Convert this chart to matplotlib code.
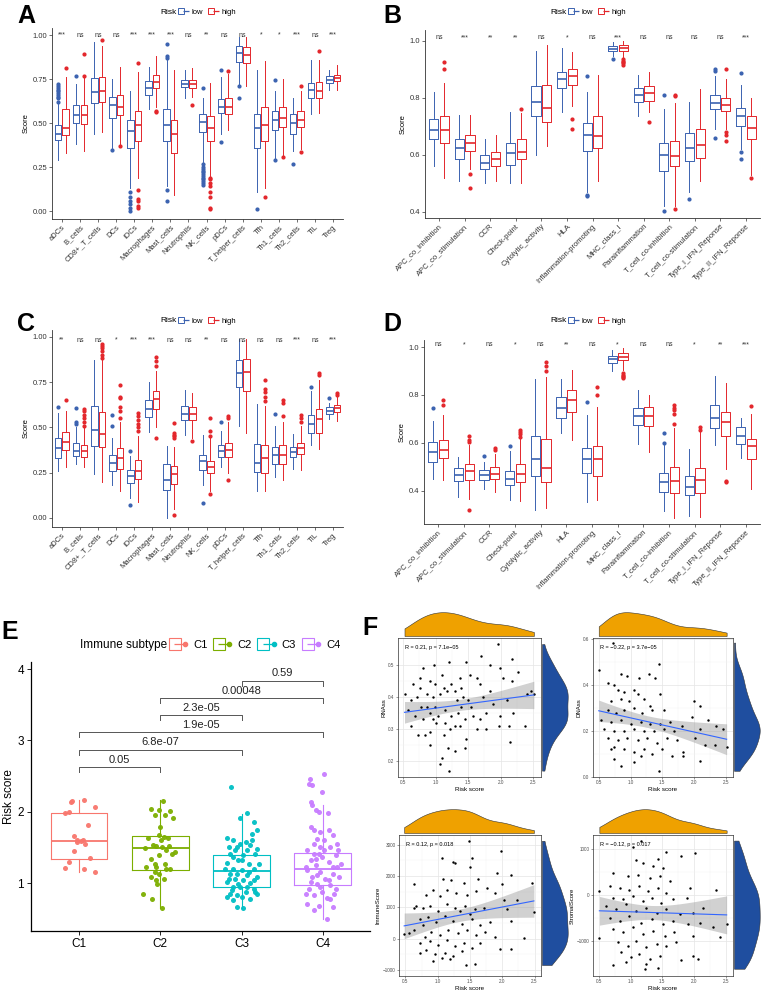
import matplotlib
matplotlib.use("Agg")
import matplotlib.pyplot as plt
import numpy as np
from matplotlib.lines import Line2D
from matplotlib.legend_handler import HandlerTuple

plt.rcParams["font.family"] = ["Liberation Sans", "DejaVu Sans"]

W, H = 762, 990

# ---------------- data: panels A-D (whislo, q1, med, q3, whishi) ----------------
A_labels = ["aDCs", "B_cells", "CD8+_T_cells", "DCs", "iDCs", "Macrophages", "Mast_cells",
            "Neutrophils", "NK_cells", "pDCs", "T_helper_cells", "Tfh", "Th1_cells",
            "Th2_cells", "TIL", "Treg"]
A_sig = ["***", "ns", "ns", "ns", "***", "***", "***", "ns", "**", "ns", "ns", "*", "*", "***", "ns", "***"]
A_low = [(0.29, 0.405, 0.44, 0.49, 0.61), (0.38, 0.50, 0.545, 0.60, 0.72), (0.44, 0.615, 0.675, 0.755, 0.96),
         (0.36, 0.53, 0.60, 0.65, 0.75), (0.13, 0.36, 0.455, 0.52, 0.68), (0.58, 0.66, 0.70, 0.74, 0.82),
         (0.14, 0.40, 0.49, 0.58, 0.86), (0.64, 0.705, 0.72, 0.745, 0.80), (0.28, 0.45, 0.505, 0.55, 0.64),
         (0.44, 0.555, 0.59, 0.635, 0.76), (0.72, 0.845, 0.90, 0.935, 0.99), (0.11, 0.36, 0.47, 0.55, 0.80),
         (0.30, 0.46, 0.52, 0.57, 0.68), (0.34, 0.44, 0.50, 0.55, 0.64), (0.55, 0.64, 0.685, 0.73, 0.86),
         (0.69, 0.725, 0.745, 0.765, 0.80)]
A_low_out = [[0.62, 0.64, 0.65, 0.66, 0.67, 0.68, 0.69, 0.70, 0.71, 0.72], [0.77], [], [0.345],
             [0.0, 0.02, 0.04, 0.06, 0.08, 0.11], [], [0.88, 0.87, 0.95, 0.12, 0.06], [],
             [0.70, 0.15, 0.16, 0.17, 0.18, 0.19, 0.20, 0.21, 0.22, 0.23, 0.24, 0.25, 0.27],
             [0.80, 0.395], [0.71, 0.645], [0.01], [0.745, 0.29], [0.27], [], []]
A_high = [(0.33, 0.43, 0.47, 0.58, 0.76), (0.34, 0.495, 0.545, 0.60, 0.77), (0.45, 0.62, 0.68, 0.76, 0.94),
          (0.38, 0.545, 0.59, 0.66, 0.82), (0.19, 0.40, 0.49, 0.57, 0.79), (0.59, 0.70, 0.735, 0.775, 0.88),
          (0.09, 0.33, 0.44, 0.52, 0.80), (0.65, 0.70, 0.72, 0.745, 0.81), (0.20, 0.40, 0.47, 0.54, 0.73),
          (0.46, 0.55, 0.59, 0.64, 0.78), (0.71, 0.84, 0.885, 0.93, 0.99), (0.13, 0.40, 0.49, 0.59, 0.85),
          (0.31, 0.475, 0.53, 0.59, 0.75), (0.35, 0.48, 0.52, 0.57, 0.68), (0.555, 0.645, 0.68, 0.735, 0.86),
          (0.69, 0.74, 0.755, 0.775, 0.83)]
A_high_out = [[0.81], [0.77, 0.89], [0.97], [0.37], [0.84, 0.02, 0.03, 0.06, 0.07, 0.12], [0.56, 0.57], [],
              [0.605], [0.01, 0.02, 0.08, 0.11, 0.14, 0.16, 0.18, 0.19], [0.795], [], [0.08], [0.305],
              [0.71, 0.335], [0.91], []]

B_labels = ["APC_co_inhibition", "APC_co_stimulation", "CCR", "Check-point", "Cytolytic_activity", "HLA",
            "Inflammation-promoting", "MHC_class_I", "Parainflammation", "T_cell_co-inhibition",
            "T_cell_co-stimulation", "Type_I_IFN_Reponse", "Type_II_IFN_Reponse"]
B_sig = ["ns", "***", "**", "**", "ns", "*", "ns", "***", "ns", "ns", "ns", "ns", "***"]
B_low = [(0.56, 0.655, 0.687, 0.725, 0.82), (0.51, 0.585, 0.625, 0.655, 0.74), (0.50, 0.55, 0.57, 0.60, 0.655),
         (0.50, 0.565, 0.605, 0.64, 0.75), (0.60, 0.735, 0.785, 0.84, 0.965), (0.75, 0.835, 0.865, 0.89, 0.975),
         (0.47, 0.615, 0.67, 0.71, 0.82), (0.945, 0.965, 0.97, 0.98, 0.995), (0.735, 0.785, 0.81, 0.835, 0.88),
         (0.42, 0.545, 0.60, 0.64, 0.76), (0.47, 0.58, 0.625, 0.675, 0.785), (0.69, 0.76, 0.78, 0.81, 0.875),
         (0.62, 0.70, 0.735, 0.765, 0.845)]
B_low_out = [[], [], [], [], [], [], [0.875, 0.455, 0.46], [0.935], [], [0.81, 0.405], [0.447],
             [0.90, 0.895, 0.66], [0.885, 0.61, 0.585]]
B_high = [(0.52, 0.64, 0.687, 0.735, 0.85), (0.55, 0.615, 0.642, 0.67, 0.74), (0.51, 0.56, 0.585, 0.61, 0.67),
          (0.50, 0.585, 0.61, 0.655, 0.745), (0.63, 0.715, 0.765, 0.845, 0.985), (0.77, 0.845, 0.875, 0.90, 0.96),
          (0.51, 0.625, 0.665, 0.735, 0.88), (0.94, 0.965, 0.975, 0.985, 1.0), (0.75, 0.79, 0.815, 0.84, 0.89),
          (0.42, 0.56, 0.595, 0.65, 0.78), (0.51, 0.59, 0.635, 0.69, 0.83), (0.69, 0.755, 0.775, 0.80, 0.865),
          (0.53, 0.655, 0.695, 0.735, 0.80)]
B_high_out = [[0.90, 0.925], [0.534, 0.485], [], [0.76], [], [0.725, 0.69], [],
              [0.915, 0.92, 0.925, 0.93, 0.935], [0.715], [0.81, 0.805, 0.41], [],
              [0.90, 0.68, 0.67, 0.65], [0.52]]

C_sig = ["**", "ns", "ns", "*", "***", "***", "ns", "ns", "**", "ns", "ns", "ns", "ns", "***", "ns", "***"]
C_low = [(0.26, 0.33, 0.385, 0.44, 0.58), (0.30, 0.34, 0.37, 0.415, 0.50), (0.24, 0.395, 0.485, 0.62, 0.87),
         (0.18, 0.26, 0.305, 0.35, 0.44), (0.11, 0.195, 0.23, 0.265, 0.34), (0.475, 0.555, 0.60, 0.65, 0.75),
         (0.0, 0.155, 0.21, 0.295, 0.395), (0.46, 0.54, 0.575, 0.615, 0.705), (0.18, 0.265, 0.315, 0.35, 0.455),
         (0.28, 0.335, 0.37, 0.40, 0.48), (0.51, 0.72, 0.80, 0.87, 0.99), (0.15, 0.255, 0.305, 0.41, 0.63),
         (0.225, 0.30, 0.35, 0.39, 0.505), (0.27, 0.335, 0.365, 0.39, 0.465), (0.40, 0.47, 0.52, 0.57, 0.70),
         (0.545, 0.575, 0.59, 0.61, 0.635)]
C_low_out = [[0.61], [0.52, 0.53, 0.605], [], [0.51, 0.57], [0.37, 0.07], [], [], [], [0.08], [0.53], [], [],
             [0.575], [], [0.725], [0.66]]
C_high = [(0.28, 0.375, 0.42, 0.475, 0.59), (0.28, 0.335, 0.37, 0.405, 0.50), (0.20, 0.39, 0.465, 0.585, 0.87),
          (0.15, 0.27, 0.33, 0.385, 0.53), (0.09, 0.215, 0.26, 0.32, 0.45), (0.50, 0.60, 0.655, 0.70, 0.81),
          (0.05, 0.19, 0.245, 0.285, 0.39), (0.44, 0.54, 0.575, 0.61, 0.69), (0.15, 0.25, 0.28, 0.315, 0.44),
          (0.25, 0.335, 0.375, 0.415, 0.53), (0.47, 0.70, 0.805, 0.875, 0.99), (0.15, 0.25, 0.33, 0.405, 0.62),
          (0.21, 0.30, 0.35, 0.40, 0.53), (0.265, 0.355, 0.385, 0.415, 0.51), (0.38, 0.47, 0.545, 0.60, 0.76),
          (0.535, 0.585, 0.605, 0.625, 0.67)]
C_high_out = [[0.65], [0.51, 0.53, 0.55, 0.57, 0.59, 0.60], [0.88, 0.90, 0.92, 0.94, 0.95, 0.96],
              [0.55, 0.59, 0.61, 0.66, 0.67, 0.735], [0.48, 0.50, 0.52, 0.54, 0.56, 0.58], [0.44, 0.84, 0.865, 0.89],
              [0.44, 0.45, 0.46, 0.47, 0.525, 0.015], [0.425], [0.45, 0.48, 0.55, 0.13], [0.55, 0.56, 0.21], [],
              [0.645, 0.67, 0.695, 0.71, 0.76], [0.565, 0.635, 0.65], [0.53, 0.55, 0.57], [0.79, 0.80], [0.68, 0.69]]

D_sig = ["ns", "*", "ns", "*", "ns", "**", "ns", "*", "ns", "ns", "*", "**", "***"]
D_low = [(0.45, 0.52, 0.56, 0.605, 0.69), (0.375, 0.44, 0.465, 0.495, 0.54), (0.405, 0.445, 0.465, 0.485, 0.52),
         (0.36, 0.425, 0.45, 0.48, 0.565), (0.32, 0.46, 0.53, 0.63, 0.865), (0.64, 0.705, 0.745, 0.79, 0.865),
         (0.35, 0.475, 0.53, 0.58, 0.715), (0.90, 0.935, 0.95, 0.965, 0.99), (0.595, 0.675, 0.71, 0.745, 0.82),
         (0.315, 0.395, 0.435, 0.475, 0.59), (0.295, 0.38, 0.415, 0.46, 0.575), (0.59, 0.66, 0.705, 0.76, 0.88),
         (0.535, 0.595, 0.63, 0.665, 0.705)]
D_low_out = [[0.745], [], [0.545], [0.585], [], [], [0.77], [], [], [0.60, 0.64], [], [], []]
D_high = [(0.445, 0.535, 0.57, 0.61, 0.715), (0.365, 0.445, 0.48, 0.51, 0.59), (0.395, 0.45, 0.47, 0.50, 0.555),
          (0.355, 0.435, 0.47, 0.51, 0.615), (0.325, 0.435, 0.495, 0.615, 0.875), (0.61, 0.73, 0.78, 0.82, 0.905),
          (0.36, 0.46, 0.53, 0.585, 0.75), (0.905, 0.945, 0.96, 0.975, 0.995), (0.56, 0.67, 0.71, 0.75, 0.80),
          (0.285, 0.39, 0.44, 0.50, 0.66), (0.29, 0.39, 0.445, 0.495, 0.645), (0.49, 0.63, 0.685, 0.73, 0.85),
          (0.405, 0.53, 0.585, 0.615, 0.72)]
D_high_out = [[0.76, 0.78], [0.605, 0.61, 0.63, 0.32], [0.57, 0.58], [0.625, 0.635, 0.645, 0.655],
              [0.90, 0.92, 0.94], [], [0.80, 0.835], [0.87, 0.875, 0.88, 0.885, 0.89], [],
              [0.68, 0.72, 0.735, 0.745, 0.76], [0.655, 0.665], [0.435, 0.44], [0.755]]

# ---------------- data: panel E ----------------
E_groups = ["C1", "C2", "C3", "C4"]
E_colors = ["#F8766D", "#7CAE00", "#00BFC4", "#C77CFF"]
E_box = [(1.16, 1.34, 1.59, 1.98, 2.16), (0.65, 1.18, 1.49, 1.66, 2.16),
         (0.65, 0.94, 1.17, 1.39, 1.97), (0.50, 0.97, 1.19, 1.42, 2.10)]
E_vals = [
    [2.13, 2.15, 2.16, 2.07, 1.98, 2.0, 1.82, 1.66, 1.57, 1.59, 1.55, 1.45, 1.35, 1.29, 1.21, 1.19, 1.15, 1.61, 1.60],
    [2.04, 2.15, 2.02, 2.01, 1.95, 1.95, 1.91, 1.79, 1.63, 1.67, 1.65, 1.60, 1.52, 1.52, 1.49, 1.46, 1.40, 1.44,
     1.33, 1.27, 1.23, 1.23, 1.20, 1.19, 1.13, 1.09, 1.06, 1.04, 0.99, 0.84, 0.77, 0.65, 1.50, 1.53, 1.63, 1.39,
     1.27, 1.15],
    [2.35, 1.98, 1.91, 1.85, 1.69, 1.74, 1.63, 1.61, 1.58, 1.53, 1.48, 1.50, 1.41, 1.39, 1.40, 1.32, 1.28, 1.26,
     1.20, 1.19, 1.18, 1.13, 1.11, 1.08, 1.05, 1.01, 1.00, 0.94, 0.92, 0.90, 0.87, 0.85, 0.81, 0.83, 0.77, 0.66,
     0.65, 0.76, 1.32, 1.37, 1.16, 1.06, 1.04, 0.99, 0.95, 0.94, 0.87, 0.85, 0.80, 1.20, 1.27, 1.46, 1.46, 1.55,
     1.60, 1.51, 1.04, 1.13],
    [2.46, 2.53, 2.38, 2.39, 2.27, 2.14, 2.09, 2.02, 2.00, 1.98, 1.79, 1.75, 1.74, 1.72, 1.67, 1.62, 1.60, 1.55,
     1.55, 1.46, 1.51, 1.41, 1.39, 1.36, 1.32, 1.30, 1.25, 1.23, 1.18, 1.15, 1.13, 1.08, 1.06, 1.08, 0.99, 0.97,
     0.92, 0.87, 0.85, 0.83, 0.79, 0.70, 0.68, 0.66, 0.62, 0.49, 1.27, 1.51, 1.41, 1.23, 1.23, 1.11, 1.04, 1.01,
     0.92, 0.94, 0.85, 0.78, 1.46, 1.34, 1.46],
]
E_jitter = [
    [-0.10, -0.08, 0.06, 0.20, -0.17, -0.12, 0.11, -0.06, -0.02, 0.02, 0.08, -0.06, 0.14, -0.12, -0.17, 0.06,
     0.20, -0.03, 0.05],
    [-0.12, 0.03, -0.02, 0.12, -0.07, 0.06, 0.16, 0.0, -0.15, -0.02, 0.05, 0.01, -0.05, 0.11, -0.19, 0.07, 0.14,
     0.18, -0.12, -0.07, -0.05, -0.17, 0.07, 0.12, -0.01, -0.11, 0.05, -0.05, -0.04, -0.21, -0.10, 0.02, 0.02,
     -0.09, 0.09, -0.02, 0.06, -0.06],
    [-0.13, 0.07, -0.02, 0.15, 0.13, 0.19, -0.18, -0.10, 0.05, 0.11, 0.19, -0.06, -0.14, 0.02, 0.17, -0.04, -0.18,
     0.09, -0.10, 0.15, 0.00, -0.14, 0.07, 0.19, -0.08, -0.18, 0.11, -0.02, 0.15, -0.12, 0.05, 0.19, -0.18, -0.06,
     0.11, -0.05, 0.02, -0.10, 0.00, -0.10, 0.09, -0.16, 0.15, -0.04, 0.07, -0.10, 0.17, -0.14, 0.00, -0.20, 0.22,
     -0.08, 0.07, -0.02, 0.13, -0.15, 0.02, -0.06],
    [-0.16, 0.02, -0.13, -0.17, -0.01, -0.15, -0.13, -0.09, -0.05, 0.06, -0.15, -0.11, 0.07, -0.03, 0.12, -0.07,
     0.01, 0.17, -0.11, -0.19, 0.09, -0.05, 0.16, -0.01, -0.15, 0.07, -0.09, 0.18, -0.19, -0.03, 0.12, -0.13, 0.03,
     0.20, -0.07, 0.09, -0.17, -0.01, 0.14, -0.11, 0.05, -0.19, -0.05, 0.12, -0.11, 0.05, 0.22, -0.03, -0.11, 0.13,
     -0.21, -0.07, 0.07, -0.14, 0.16, -0.03, -0.21, 0.09, 0.02, -0.08, 0.19],
]
E_pairs = [(0, 1), (0, 2), (0, 3), (1, 2), (1, 3), (2, 3)]
E_pvals = ["0.05", "6.8e-07", "1.9e-05", "2.3e-05", "0.00048", "0.59"]

# ---------------- data: panel F (risk score vs scores) ----------------
F1_x = [0.52, 1.96, 1.69, 1.21, 1.46, 2.17, 0.98, 0.81, 1.84, 2.27, 1.99, 0.65, 0.76, 0.91, 1.09, 1.24, 1.37,
        1.53, 1.63, 1.68, 1.83, 2.04, 2.17, 2.40, 0.62, 0.71, 0.86, 0.96, 1.06, 1.17, 1.32, 1.42, 1.50, 1.73,
        1.88, 2.09, 0.58, 0.68, 0.78, 0.91, 1.04, 1.14, 1.24, 1.35, 1.45, 1.58, 1.68, 1.78, 1.99, 2.19, 0.62,
        0.73, 0.83, 0.91, 1.01, 1.12, 1.22, 1.37, 1.47, 1.63, 1.78, 1.98, 2.12, 2.37, 2.14, 1.19, 1.06, 1.21,
        1.09, 0.91, 1.29, 1.45, 2.51, 2.47, 0.76, 0.99, 1.12, 1.29, 1.39, 0.86, 0.99, 1.39, 1.54, 0.81, 0.96,
        1.14, 1.29]
F1_y = [0.41, 0.566, 0.53, 0.51, 0.51, 0.52, 0.50, 0.49, 0.50, 0.48, 0.49, 0.44, 0.46, 0.45, 0.47, 0.44, 0.46,
        0.47, 0.46, 0.44, 0.42, 0.46, 0.45, 0.41, 0.39, 0.40, 0.41, 0.40, 0.41, 0.42, 0.39, 0.40, 0.39, 0.40,
        0.38, 0.39, 0.36, 0.34, 0.37, 0.35, 0.34, 0.36, 0.34, 0.35, 0.33, 0.34, 0.33, 0.35, 0.34, 0.35, 0.31,
        0.28, 0.28, 0.29, 0.32, 0.28, 0.30, 0.31, 0.27, 0.30, 0.30, 0.31, 0.31, 0.31, 0.26, 0.24, 0.19, 0.17,
        0.21, 0.25, 0.23, 0.24, 0.41, 0.42, 0.43, 0.44, 0.43, 0.42, 0.43, 0.37, 0.37, 0.37, 0.37, 0.33, 0.33,
        0.32, 0.31]

F2_x = [0.50, 0.72, 1.44, 0.64, 0.85, 0.95, 1.13, 1.29, 1.38, 0.74, 0.80, 0.90, 1.05, 1.11, 0.69, 0.85, 0.98,
        1.21, 1.47, 1.31, 0.64, 0.77, 0.90, 1.05, 1.18, 1.34, 1.52, 1.99, 2.09, 2.22, 0.54, 0.69, 0.85, 1.00,
        1.16, 1.31, 1.47, 1.62, 1.96, 0.59, 0.74, 0.90, 1.05, 1.21, 1.37, 1.52, 1.68, 1.81, 2.09, 2.35, 2.45,
        0.64, 0.80, 0.95, 1.11, 1.26, 1.42, 1.57, 1.73, 2.01, 2.17, 2.32, 2.51, 0.74, 0.90, 1.05, 1.21, 1.34,
        1.49, 1.65, 1.83, 0.85, 1.05, 1.44, 2.09, 0.69, 1.83, 0.74, 1.16]
F2_y = [0.466, 0.585, 0.49, 0.41, 0.45, 0.44, 0.43, 0.45, 0.43, 0.40, 0.38, 0.37, 0.38, 0.36, 0.33, 0.34, 0.33,
        0.34, 0.36, 0.31, 0.29, 0.28, 0.29, 0.30, 0.28, 0.29, 0.29, 0.33, 0.31, 0.25, 0.25, 0.24, 0.25, 0.23,
        0.24, 0.23, 0.23, 0.24, 0.26, 0.21, 0.20, 0.20, 0.21, 0.20, 0.20, 0.21, 0.20, 0.22, 0.21, 0.22, 0.21,
        0.17, 0.16, 0.17, 0.16, 0.17, 0.15, 0.17, 0.16, 0.17, 0.14, 0.14, 0.13, 0.13, 0.12, 0.11, 0.12, 0.10,
        0.12, 0.09, 0.11, 0.05, 0.065, 0.027, 0.07, 0.12, 0.09, 0.08, 0.09]

F3_x = [1.49, 1.06, 1.23, 1.27, 1.53, 1.50, 1.98, 1.92, 2.13, 0.64, 2.46, 1.08, 1.21, 1.40, 1.63, 1.99, 0.82,
        0.93, 1.03, 1.14, 1.29, 1.45, 1.60, 1.76, 1.89, 2.02, 2.23, 0.67, 0.77, 0.88, 1.01, 1.14, 1.27, 1.42,
        1.58, 1.71, 2.07, 2.49, 0.72, 0.85, 0.98, 1.11, 1.24, 1.37, 1.53, 1.66, 1.81, 2.13, 0.56, 0.64, 0.77,
        0.90, 1.03, 1.16, 1.32, 1.45, 1.60, 1.73, 1.89, 2.33, 0.48, 0.72, 0.88, 1.01, 1.14, 1.27, 1.40, 1.53,
        1.66, 1.97, 0.72, 0.82, 0.95, 1.11, 1.24, 1.37, 0.93, 1.06, 1.19, 1.44, 1.57, 2.13, 0.64, 0.80, 1.34,
        1.50]
F3_y = [3124, 2588, 2454, 2402, 2588, 2278, 2804, 2093, 2041, 1742, 1763, 1918, 1866, 1763, 1918, 1732, 1402,
        1557, 1351, 1557, 1454, 1402, 1505, 1608, 1454, 1247, 1247, 1041, 990, 1041, 887, 1093, 990, 1041, 938,
        990, 938, 835, 629, 680, 526, 732, 577, 474, 629, 423, 526, 577, 165, 268, 423, 216, 113, 268, 165, 268,
        113, 216, 62, 10, 144, -144, -93, -196, -41, -247, -144, -299, -144, -330, -454, -351, -505, -454, -557,
        -402, -711, -608, -660, -845, -804, -330, 990, 62, 887, 784]

F4_x = [1.17, 1.04, 1.55, 2.01, 1.43, 1.09, 1.80, 0.72, 1.19, 1.35, 1.51, 0.96, 1.12, 1.30, 1.46, 1.62, 1.93,
        2.35, 0.67, 0.83, 0.98, 1.14, 1.27, 1.43, 1.56, 0.51, 0.72, 0.88, 1.04, 1.19, 1.33, 1.48, 1.67, 1.88,
        2.14, 0.62, 0.77, 0.93, 1.09, 1.25, 1.41, 1.56, 1.77, 1.98, 0.67, 0.83, 0.98, 1.17, 1.33, 1.51, 1.67,
        1.91, 2.09, 2.30, 2.51, 0.51, 0.72, 0.88, 1.04, 1.19, 1.35, 1.54, 1.69, 1.98, 2.41, 0.80, 0.96, 1.09,
        1.25, 1.41, 1.56, 1.72, 1.98, 2.06, 0.85, 1.01, 1.14, 1.30, 1.46, 0.72, 0.93, 1.25, 1.43, 1.22, 1.80]
F4_y = [1179, 1036, 943, 907, 779, 750, 836, 479, 693, 621, 586, 407, 443, 371, 407, 300, 157, 121, 193, 157,
        121, 193, 86, 157, 50, 86, -57, -93, -21, -129, -57, -164, -93, -57, -271, -236, -307, -200, -343, -271,
        -379, -307, -414, -379, -486, -557, -450, -593, -521, -629, -557, -629, -593, -700, -629, -936, -736,
        -807, -700, -843, -771, -879, -807, -879, -914, -1021, -1093, -986, -1129, -1057, -1093, -1021, -1307,
        -1379, -1236, -1343, -1271, -1379, -1307, -1507, -1450, -1486, -1579, -1593, -1414]

LOW_C = "#3B62B0"
HIGH_C = "#E3262B"


def rect(l, t, r, b):
    return [l / W, 1 - b / H, (r - l) / W, (b - t) / H]


def to_stats(rows, outs):
    return [dict(whislo=r[0], q1=r[1], med=r[2], q3=r[3], whishi=r[4], fliers=np.array(o, dtype=float))
            for r, o in zip(rows, outs)]


def risk_box_panel(fig, box, labels, low, low_out, high, high_out, sig, ylim, yticks, ytfmt, sig_y):
    ax = fig.add_axes(rect(*box))
    pos = np.arange(1, len(labels) + 1)
    for rows, outs, c, off in [(low, low_out, LOW_C, -0.21), (high, high_out, HIGH_C, 0.21)]:
        ax.bxp(to_stats(rows, outs), positions=pos + off, widths=0.36, showcaps=False, manage_ticks=False,
               boxprops=dict(color=c, lw=0.7), whiskerprops=dict(color=c, lw=0.7),
               medianprops=dict(color=c, lw=1.2),
               flierprops=dict(marker="o", mfc=c, mec=c, ms=2.0, lw=0))
    for p, s in zip(pos, sig):
        ax.text(p, sig_y, s, ha="center", va="center", fontsize=5, color="#333333")
    ax.set_xlim(0.45, len(labels) + 0.55)
    ax.set_ylim(*ylim)
    ax.set_yticks(yticks)
    ax.set_yticklabels([ytfmt.format(v) for v in yticks])
    ax.set_xticks(pos)
    ax.set_xticklabels(labels, rotation=45, ha="right", rotation_mode="anchor")
    ax.tick_params(labelsize=5.5, length=2, width=0.5, colors="#333333", pad=1.5)
    ax.spines[["top", "right"]].set_visible(False)
    ax.spines[["left", "bottom"]].set_linewidth(0.6)
    ax.spines[["left", "bottom"]].set_color("#333333")
    ax.set_ylabel("Score", fontsize=5.5, labelpad=2)
    return ax


def risk_legend(fig, x, y):
    fig.text(x / W, 1 - y / H, "Risk", fontsize=6, va="center", ha="left")
    hs = []
    for c in [LOW_C, HIGH_C]:
        hs.append((Line2D([], [], marker="s", ms=5, mfc="white", mec=c, mew=0.7, ls="none"),
                   Line2D([], [], marker="_", ms=5, mec=c, mew=0.9, ls="none")))
    fig.legend(hs, ["low", "high"], handler_map={tuple: HandlerTuple(ndivide=None)}, ncol=2,
               loc="center left", bbox_to_anchor=((x + 19) / W, 1 - y / H), frameon=False, fontsize=5.5,
               handlelength=1.2, handletextpad=0.4, columnspacing=0.8, borderpad=0, borderaxespad=0)


def kde(vals, grid):
    v = np.asarray(vals, dtype=float)
    iqr = np.subtract(*np.percentile(v, [75, 25]))
    bw = 0.9 * min(v.std(ddof=1), iqr / 1.34) * len(v) ** (-0.2)
    d = np.exp(-0.5 * ((grid[:, None] - v[None, :]) / bw) ** 2).sum(axis=1)
    return d / (len(v) * bw * np.sqrt(2 * np.pi))


def corr_panel(fig, main, x, y, xlim, ylim, yticks, ylabel, rtext):
    l, t, r, b = main
    ax = fig.add_axes(rect(l, t, r, b))
    x = np.asarray(x, dtype=float)
    y = np.asarray(y, dtype=float)
    k, c0 = np.polyfit(x, y, 1)
    xs = np.linspace(x.min(), x.max(), 100)
    yh = k * xs + c0
    res = y - (k * x + c0)
    s = np.sqrt((res ** 2).sum() / (len(x) - 2))
    se = s * np.sqrt(1 / len(x) + (xs - x.mean()) ** 2 / ((x - x.mean()) ** 2).sum())
    ax.fill_between(xs, yh - 1.97 * se, yh + 1.97 * se, color="#999999", alpha=0.45, lw=0, zorder=2)
    ax.scatter(x, y, s=3, c="black", lw=0, zorder=3)
    ax.plot(xs, yh, color="#3366FF", lw=0.8, zorder=4)
    xt = [0.5, 1.0, 1.5, 2.0, 2.5]
    ax.set_xticks(xt)
    ax.set_xticklabels([f"{v:.1f}" for v in xt])
    ax.set_xticks([0.75, 1.25, 1.75, 2.25], minor=True)
    ax.set_yticks(yticks)
    ax.set_yticks([(a + bb) / 2 for a, bb in zip(yticks[:-1], yticks[1:])], minor=True)
    ax.grid(True, which="major", color="#E5E5E5", lw=0.5, zorder=0)
    ax.grid(True, which="minor", color="#F2F2F2", lw=0.3, zorder=0)
    ax.set_axisbelow(True)
    ax.set_xlim(*xlim)
    ax.set_ylim(*ylim)
    ax.tick_params(labelsize=3.3, length=1.5, width=0.4, colors="#4D4D4D", pad=1)
    ax.tick_params(which="minor", length=0)
    for sp in ax.spines.values():
        sp.set_color("#333333")
        sp.set_linewidth(0.5)
    ax.set_xlabel("Risk score", fontsize=4.5, labelpad=1)
    ax.set_ylabel(ylabel, fontsize=4.3, labelpad=1.5)
    ax.text(0.05, 0.93, rtext, transform=ax.transAxes, fontsize=4, va="center")

    top = fig.add_axes(rect(l, t - 27, r, t - 2))
    gx = np.linspace(x.min(), x.max(), 200)
    top.fill_between(gx, 0, kde(x, gx), color="#EFA100", ec="#333333", lw=0.4)
    top.set_xlim(*xlim)
    top.set_ylim(0, None)
    top.axis("off")

    right = fig.add_axes(rect(r + 1, t, r + 28, b))
    gy = np.linspace(y.min(), y.max(), 200)
    right.fill_betweenx(gy, 0, kde(y, gy), color="#1F4E9F", ec="#333333", lw=0.4)
    right.set_ylim(*ylim)
    right.set_xlim(0, None)
    right.axis("off")
    return ax


fig = plt.figure(figsize=(W / 100, H / 100), dpi=100)

# panel A
risk_box_panel(fig, (52, 28, 343, 219), A_labels, A_low, A_low_out, A_high, A_high_out, A_sig,
               (-0.045, 1.04), [0.0, 0.25, 0.5, 0.75, 1.0], "{:.2f}", 1.0)
risk_legend(fig, 160, 12)
# panel B
risk_box_panel(fig, (425, 30, 760, 218), B_labels, B_low, B_low_out, B_high, B_high_out, B_sig,
               (0.379, 1.037), [0.4, 0.6, 0.8, 1.0], "{:.1f}", 1.01)
risk_legend(fig, 550, 12)
# panel C
risk_box_panel(fig, (52, 330, 343, 527), A_labels, C_low, C_low_out, C_high, C_high_out, C_sig,
               (-0.05, 1.037), [0.0, 0.25, 0.5, 0.75, 1.0], "{:.2f}", 0.98)
risk_legend(fig, 160, 321)
# panel D
risk_box_panel(fig, (424, 340, 760, 524), B_labels, D_low, D_low_out, D_high, D_high_out, D_sig,
               (0.26, 1.03), [0.4, 0.6, 0.8, 1.0], "{:.1f}", 1.01)
risk_legend(fig, 550, 321)

# panel E
axE = fig.add_axes(rect(31, 662, 370, 931))
posE = np.arange(1, 5)
for i, c in enumerate(E_colors):
    st = to_stats([E_box[i]], [[]])
    axE.bxp(st, positions=[posE[i]], widths=0.7, showcaps=False, manage_ticks=False,
            boxprops=dict(color=c, lw=0.8), whiskerprops=dict(color=c, lw=0.8),
            medianprops=dict(color=c, lw=1.3))
    axE.scatter(posE[i] + np.array(E_jitter[i]), E_vals[i], s=13, color=c, lw=0, alpha=0.95, zorder=3)
for k, ((a, b), lab) in enumerate(zip(E_pairs, E_pvals)):
    yb = 2.63 + 0.242 * k
    axE.plot([posE[a], posE[a], posE[b], posE[b]], [yb - 0.07, yb, yb, yb - 0.07], color="#555555", lw=0.7)
    axE.text((posE[a] + posE[b]) / 2, yb + 0.03, lab, ha="center", va="bottom", fontsize=8, color="#222222")
axE.set_xlim(0.41, 4.58)
axE.set_ylim(0.327, 4.1)
axE.set_yticks([1, 2, 3, 4])
axE.set_xticks(posE)
axE.set_xticklabels(E_groups)
axE.tick_params(labelsize=8.5, length=3, width=0.6, pad=2)
axE.spines[["top", "right"]].set_visible(False)
axE.spines[["left", "bottom"]].set_linewidth(0.9)
axE.set_ylabel("Risk score", fontsize=8.5, labelpad=2)
hsE = [(Line2D([], [], marker="s", ms=9, mfc="white", mec=c, mew=0.8, ls="none"),
        Line2D([], [], marker="_", ms=9, mec=c, mew=0.9, ls="none"),
        Line2D([], [], marker="o", ms=3, mfc=c, mec=c, ls="none")) for c in E_colors]
fig.text(80 / W, 1 - 645 / H, "Immune subtype", fontsize=8.5, va="center")
fig.legend(hsE, E_groups, handler_map={tuple: HandlerTuple(ndivide=None)}, ncol=4, loc="center left",
           bbox_to_anchor=(172 / W, 1 - 645 / H), frameon=False, fontsize=8, handlelength=1.4,
           handletextpad=0.5, columnspacing=0.8, borderpad=0, borderaxespad=0)

# panel F
corr_panel(fig, (398, 638, 541, 777), F1_x, F1_y, (0.42, 2.62), (0.15, 0.585), [0.2, 0.3, 0.4, 0.5],
           "RNAss", "R = 0.21, p = 7.1e\u221205")
corr_panel(fig, (593, 638, 733, 777), F2_x, F2_y, (0.41, 2.61), (0.0, 0.605), [0.0, 0.2, 0.4, 0.6],
           "DNAss", "R = \u22120.22, p = 3.7e\u221205")
corr_panel(fig, (399, 835, 541, 976), F3_x, F3_y, (0.40, 2.60), (-1196, 3309), [-1000, 0, 1000, 2000, 3000],
           "ImmuneScore", "R = 0.12, p = 0.018")
corr_panel(fig, (593, 835, 733, 976), F4_x, F4_y, (0.41, 2.61), (-1750, 1300), [-1000, 0, 1000],
           "StromalScore", "R = \u22120.12, p = 0.017")

# panel letters
for let, x, y in [("A", 17, 16), ("B", 383, 16), ("C", 17, 324), ("D", 383, 324), ("E", 1, 632), ("F", 362, 628)]:
    fig.text(x / W, 1 - y / H, let, fontsize=18, fontweight="bold", va="center", ha="left")

fig.savefig("out.png", dpi=100)
plt.close(fig)
